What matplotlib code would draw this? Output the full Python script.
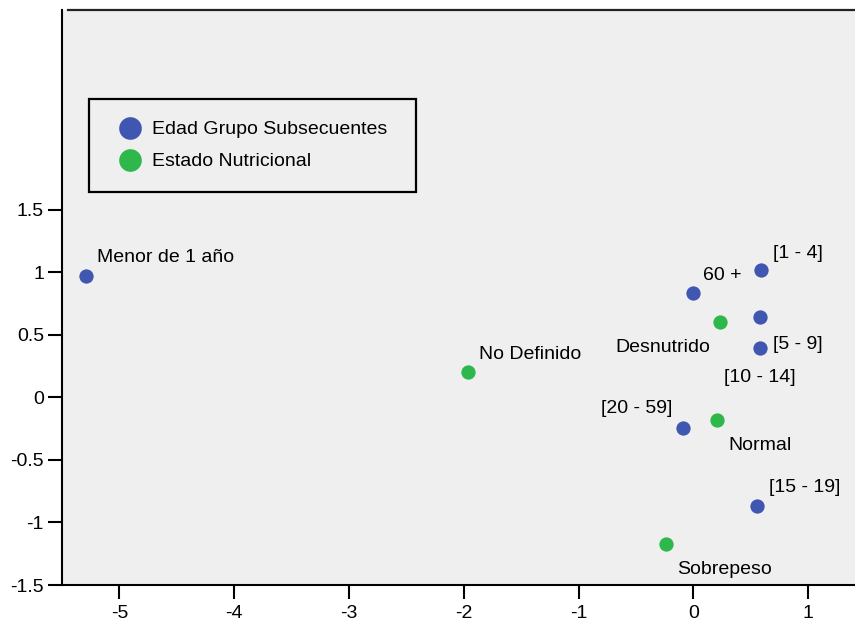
import matplotlib
matplotlib.use("Agg")
import matplotlib.pyplot as plt
from matplotlib.patches import Rectangle
from matplotlib.lines import Line2D

plt.rcParams['font.family'] = ['Liberation Sans', 'DejaVu Sans']

# ---- data ----
edad_labels = ['Menor de 1 año', '[1 - 4]', '[5 - 9]', '[10 - 14]', '[15 - 19]', '[20 - 59]', '60 +']
edad_x = [-5.29, 0.59, 0.58, 0.578, 0.552, -0.087, 0.0]
edad_y = [0.97, 1.02, 0.644, 0.396, -0.867, -0.248, 0.83]

nutri_labels = ['Desnutrido', 'No Definido', 'Normal', 'Sobrepeso']
nutri_x = [0.232, -1.963, 0.204, -0.240]
nutri_y = [0.604, 0.202, -0.181, -1.173]

series_names = ['Edad Grupo Subsecuentes', 'Estado Nutricional']
x_ticks = [-5, -4, -3, -2, -1, 0, 1]
y_ticks = [-1.5, -1, -0.5, 0, 0.5, 1, 1.5]
y_tick_labels = ['-1.5', '-1', '-0.5', '0', '0.5', '1', '1.5']

# ---- style ----
BLUE = '#3F57B0'
GREEN = '#2EB84C'
BG = '#EFEFEF'
FS = 14

W, H = 855, 625
fig = plt.figure(figsize=(W / 100, H / 100), dpi=100)
ax = fig.add_axes([62 / W, 40 / H, (W - 62) / W, (585 - 10) / H])
ax.set_facecolor(BG)
ax.set_xlim(-5.5, 1.408)
ax.set_ylim(-1.5, 3.096)

ax.scatter(edad_x, edad_y, s=106, color=BLUE, zorder=3, linewidths=0)
ax.scatter(nutri_x, nutri_y, s=106, color=GREEN, zorder=3, linewidths=0)

# label offsets in pixels (dx right, dy down), horizontal alignment
SHIFT = 2.5
edad_off = {
    'Menor de 1 año': (11, -21, 'left'),
    '[1 - 4]': (12, -19, 'left'),
    '[5 - 9]': (13, 25, 'left'),
    '[10 - 14]': (0, 27, 'center'),
    '[15 - 19]': (12, -21, 'left'),
    '[20 - 59]': (-11, -22, 'right'),
    '60 +': (10, -20, 'left'),
}
nutri_off = {
    'Desnutrido': (-10, 23, 'right'),
    'No Definido': (11, -20, 'left'),
    'Normal': (12, 23, 'left'),
    'Sobrepeso': (11, 23, 'left'),
}
for lab, x, y in zip(edad_labels, edad_x, edad_y):
    dx, dy, ha = edad_off[lab]
    ax.annotate(lab, (x, y), xytext=(dx * 0.72, -(dy + SHIFT) * 0.72), textcoords='offset points',
                ha=ha, va='center', fontsize=FS, color='black')
for lab, x, y in zip(nutri_labels, nutri_x, nutri_y):
    dx, dy, ha = nutri_off[lab]
    ax.annotate(lab, (x, y), xytext=(dx * 0.72, -(dy + SHIFT) * 0.72), textcoords='offset points',
                ha=ha, va='center', fontsize=FS, color='black')

# spines
for s in ['top', 'right']:
    ax.spines[s].set_visible(False)
for s in ['left', 'bottom']:
    ax.spines[s].set_linewidth(1.5)
    ax.spines[s].set_color('black')
# top line starting slightly right of left spine
ax.add_line(Line2D([6 / (W - 62), 1], [1, 1], transform=ax.transAxes, color='#222222',
                   linewidth=1.6, clip_on=False))

ax.set_xticks(x_ticks)
ax.set_xticklabels([str(t) for t in x_ticks])
ax.set_yticks(y_ticks)
ax.set_yticklabels(y_tick_labels)
ax.tick_params(direction='out', length=10, width=1.5, labelsize=FS, colors='black')
ax.tick_params(axis='x', pad=4.5)
ax.tick_params(axis='y', pad=3)

# legend box (manual)
def fx(px):
    return px / W

def fy(py):
    return 1 - py / H

fig.patches.append(Rectangle((fx(89), fy(192.3)), fx(416) - fx(89), fy(99.3) - fy(192.3),
                             transform=fig.transFigure, facecolor=BG, edgecolor='black',
                             linewidth=1.6, zorder=5))
for name, col, py in zip(series_names, [BLUE, GREEN], [127.7, 160.3]):
    fig.add_artist(Line2D([fx(130)], [fy(py)], transform=fig.transFigure, marker='o',
                          markersize=16.3, markerfacecolor=col, markeredgewidth=0,
                          linestyle='None', zorder=6))
    fig.text(fx(151.7), fy(py + 1.5), name, fontsize=FS, va='center', ha='left', zorder=6)

fig.savefig('out.png', dpi=100)
